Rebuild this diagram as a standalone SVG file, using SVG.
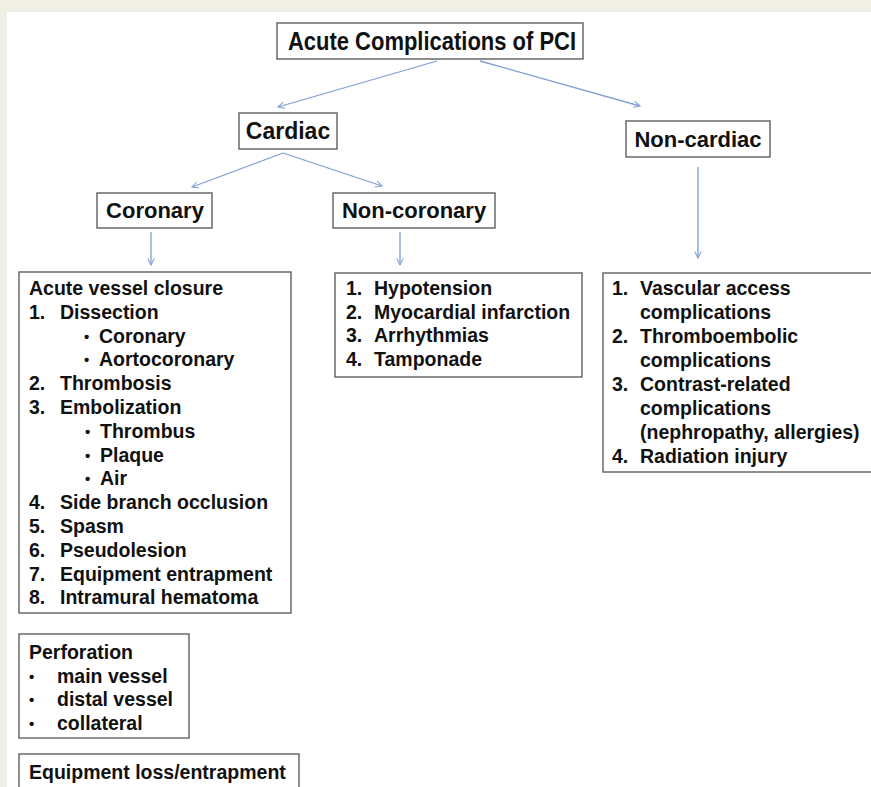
<svg xmlns="http://www.w3.org/2000/svg" width="871" height="787" viewBox="0 0 871 787">
  <defs>
    <style>
      .box { fill: #ffffff; stroke: #5e5e5e; stroke-width: 1.4; }
      .t { font-family: "Liberation Sans", Arial, sans-serif; font-weight: bold; fill: #111111; }
      .h { font-size: 22px; }
      .l { font-size: 19.5px; }
      .b { font-size: 15px; }
      .c { stroke: #7f9fd3; stroke-width: 1.3; fill: none; marker-end: url(#ah); }
    </style>
    <marker id="ah" viewBox="0 0 10 10" refX="9" refY="5" markerWidth="8" markerHeight="8" markerUnits="userSpaceOnUse" orient="auto">
      <path d="M1,1 L9,5 L1,9" fill="none" stroke="#7f9fd3" stroke-width="1.3"/>
    </marker>
  </defs>

  <rect x="0" y="0" width="871" height="787" fill="#efefe6"/>
  <rect x="7" y="12" width="864" height="775" fill="#ffffff"/>

  <g id="connectors">
    <line class="c" x1="437" y1="61" x2="278" y2="107"/>
    <line class="c" x1="480" y1="61" x2="640" y2="106"/>
    <line class="c" x1="283" y1="153" x2="192" y2="187"/>
    <line class="c" x1="283" y1="153" x2="382" y2="186"/>
    <line class="c" x1="151" y1="232" x2="151" y2="265"/>
    <line class="c" x1="400" y1="232" x2="400" y2="265"/>
    <line class="c" x1="698" y1="167" x2="698" y2="258"/>
  </g>

  <g id="root">
    <rect class="box" x="277" y="23" width="306" height="36"/>
    <text class="t" x="288" y="50" font-size="25" textLength="288" lengthAdjust="spacingAndGlyphs">Acute Complications of PCI</text>
  </g>

  <g id="cardiac">
    <rect class="box" x="239" y="113" width="98" height="36"/>
    <text class="t" x="288" y="139" font-size="23" text-anchor="middle">Cardiac</text>
  </g>

  <g id="noncardiac">
    <rect class="box" x="626" y="121" width="144" height="36"/>
    <text class="t h" x="698" y="147" text-anchor="middle">Non-cardiac</text>
  </g>

  <g id="coronary">
    <rect class="box" x="97" y="193" width="115" height="35"/>
    <text class="t h" x="155" y="218" text-anchor="middle">Coronary</text>
  </g>

  <g id="noncoronary">
    <rect class="box" x="333" y="193" width="162" height="35"/>
    <text class="t h" x="414" y="218" text-anchor="middle">Non-coronary</text>
  </g>

  <g id="coronary-list">
    <rect class="box" x="19" y="272" width="272" height="341"/>
    <g class="t l">
      <text x="29" y="295">Acute vessel closure</text>
      <text x="29" y="318.8">1.</text><text x="60" y="318.8">Dissection</text>
      <text class="b" x="84" y="341.6">•</text><text x="99" y="342.6">Coronary</text>
      <text class="b" x="84" y="365.4">•</text><text x="99" y="366.4">Aortocoronary</text>
      <text x="29" y="390.2">2.</text><text x="60" y="390.2">Thrombosis</text>
      <text x="29" y="414">3.</text><text x="60" y="414">Embolization</text>
      <text class="b" x="85" y="436.8">•</text><text x="100" y="437.8">Thrombus</text>
      <text class="b" x="85" y="460.6">•</text><text x="100" y="461.6">Plaque</text>
      <text class="b" x="85" y="484.4">•</text><text x="100" y="485.4">Air</text>
      <text x="29" y="509.2">4.</text><text x="60" y="509.2">Side branch occlusion</text>
      <text x="29" y="533">5.</text><text x="60" y="533">Spasm</text>
      <text x="29" y="556.8">6.</text><text x="60" y="556.8">Pseudolesion</text>
      <text x="29" y="580.6">7.</text><text x="60" y="580.6">Equipment entrapment</text>
      <text x="29" y="604.4">8.</text><text x="60" y="604.4">Intramural hematoma</text>
    </g>
  </g>

  <g id="noncoronary-list">
    <rect class="box" x="335" y="273" width="247" height="104"/>
    <g class="t l">
      <text x="346" y="295">1.</text><text x="374" y="295">Hypotension</text>
      <text x="346" y="318.5">2.</text><text x="374" y="318.5">Myocardial infarction</text>
      <text x="346" y="342">3.</text><text x="374" y="342">Arrhythmias</text>
      <text x="346" y="365.5">4.</text><text x="374" y="365.5">Tamponade</text>
    </g>
  </g>

  <g id="noncardiac-list">
    <rect class="box" x="603" y="273" width="275" height="199"/>
    <g class="t l">
      <text x="612" y="295">1.</text><text x="640" y="295">Vascular access</text>
      <text x="640" y="319">complications</text>
      <text x="612" y="343">2.</text><text x="640" y="343">Thromboembolic</text>
      <text x="640" y="367">complications</text>
      <text x="612" y="391">3.</text><text x="640" y="391">Contrast-related</text>
      <text x="640" y="415">complications</text>
      <text x="640" y="439">(nephropathy, allergies)</text>
      <text x="612" y="463">4.</text><text x="640" y="463">Radiation injury</text>
    </g>
  </g>

  <g id="perforation">
    <rect class="box" x="19" y="634" width="170" height="104"/>
    <g class="t l">
      <text x="29" y="659">Perforation</text>
      <text class="b" x="29" y="681.5">•</text><text x="57" y="682.5">main vessel</text>
      <text class="b" x="29" y="705">•</text><text x="57" y="706">distal vessel</text>
      <text class="b" x="29" y="728.5">•</text><text x="57" y="729.5">collateral</text>
    </g>
  </g>

  <g id="equipment-loss">
    <rect class="box" x="19" y="754" width="280" height="40"/>
    <text class="t l" x="29" y="779">Equipment loss/entrapment</text>
  </g>
</svg>
